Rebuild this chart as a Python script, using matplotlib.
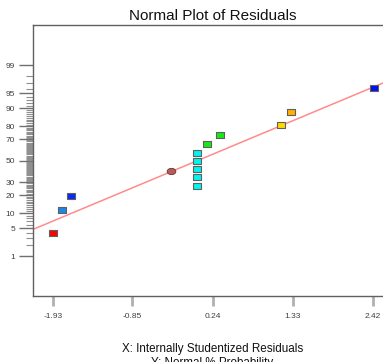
import numpy as np
import matplotlib
matplotlib.use("Agg")
import matplotlib.pyplot as plt
from statistics import NormalDist

plt.rcParams['font.family'] = ['Liberation Sans', 'DejaVu Sans']

# ---- data ----
resid = [-1.93, -1.81, -1.69, -0.32, 0.03, 0.03, 0.03, 0.03, 0.03, 0.16, 0.34, 1.17, 1.30, 2.43]
prob = [3.9, 11.7, 19.3, 40.4, 26.9, 34.9, 42.3, 50.0, 57.7, 65.5, 73.2, 80.8, 88.3, 96.2]
colors = ['#ff0000', '#1a88e6', '#0a2af5', '#b85a5a', '#00f5ee', '#00f5ee', '#00f5ee',
          '#00f5ee', '#00f5ee', '#18e818', '#18e818', '#ffd800', '#ffb000', '#0010e8']
shapes = ['s', 's', 's', 'o', 's', 's', 's', 's', 's', 's', 's', 's', 's', 's']

line_intercept_z = -0.023
line_slope_z = 0.748

xticks = [-1.93, -0.85, 0.24, 1.33, 2.42]
xticklabels = ['-1.93', '-0.85', '0.24', '1.33', '2.42']
yticks = [1, 5, 10, 20, 30, 50, 70, 80, 90, 95, 99]
yticklabels = [str(v) for v in yticks]
yminor = [v for v in range(2, 99) if v not in yticks]

nd = NormalDist()


def fwd(p):
    p = np.asarray(p, dtype=float)
    q = np.clip(p / 100.0, 1e-9, 1 - 1e-9)
    return np.vectorize(nd.inv_cdf)(q)


def inv(z):
    z = np.asarray(z, dtype=float)
    return np.vectorize(nd.cdf)(z) * 100.0


W, H = 383, 362
fig = plt.figure(figsize=(W / 100, H / 100), dpi=100)
ax = fig.add_axes([33 / W, (H - 296) / H, (393 - 33) / W, (296 - 25) / H])
ax.set_yscale('function', functions=(fwd, inv))

xlim = (-2.2025, 2.6925)
ax.set_xlim(*xlim)
ax.set_ylim(inv(-3.29), inv(3.30))

# fitted line
lx = np.array(xlim)
ax.plot(lx, inv(line_intercept_z + line_slope_z * lx), color='#ff8c8c', lw=1.1, zorder=2)

rect = [(-1, -0.7), (1, -0.7), (1, 0.7), (-1, 0.7), (-1, -0.7)]
for x, p, c, s in zip(resid, prob, colors, shapes):
    if s == 'o':
        ell = [(np.cos(t), 0.72 * np.sin(t)) for t in np.linspace(0, 2 * np.pi, 40)]
        ax.plot([x], [p], marker=ell, ms=6.3, mfc=c, mec='#6a3030', mew=0.6,
                ls='none', zorder=3)
    else:
        ax.plot([x], [p], marker=rect, ms=6.4, mfc=c, mec='#606060', mew=0.8,
                ls='none', zorder=3)

for side in ['left', 'bottom', 'top']:
    ax.spines[side].set_color('#606060')
    ax.spines[side].set_linewidth(1.0)
ax.spines['right'].set_visible(False)

ax.set_xticks(xticks)
ax.set_xticklabels(xticklabels)
ax.tick_params(axis='x', direction='out', length=7, width=2, color='#b0b0b0',
               labelsize=6, labelcolor='#404040', pad=5)
ax.set_yticks(yticks)
ax.set_yticklabels(yticklabels)
ax.set_yticks(yminor, minor=True)
ax.yaxis.set_minor_formatter(matplotlib.ticker.NullFormatter())
ax.tick_params(axis='y', which='major', direction='out', length=10, width=1,
               color='#707070', labelsize=6, labelcolor='#404040', pad=3)
ax.tick_params(axis='y', which='minor', direction='out', length=5, width=0.8,
               color='#909090')
ax.tick_params(axis='x', which='minor', bottom=False)

fig.text(212.5 / W, 1 - 15.5 / H, 'Normal Plot of Residuals', ha='center', va='center',
         fontsize=11, color='#111111')
fig.text(212.5 / W, 1 - 351.7 / H, 'X: Internally Studentized Residuals', ha='center',
         va='baseline', fontsize=8.4, color='#111111')
fig.text(212.5 / W, 1 - 366 / H, 'Y: Normal % Probability', ha='center',
         va='baseline', fontsize=8.4, color='#111111')

fig.savefig('out.png', dpi=100)
